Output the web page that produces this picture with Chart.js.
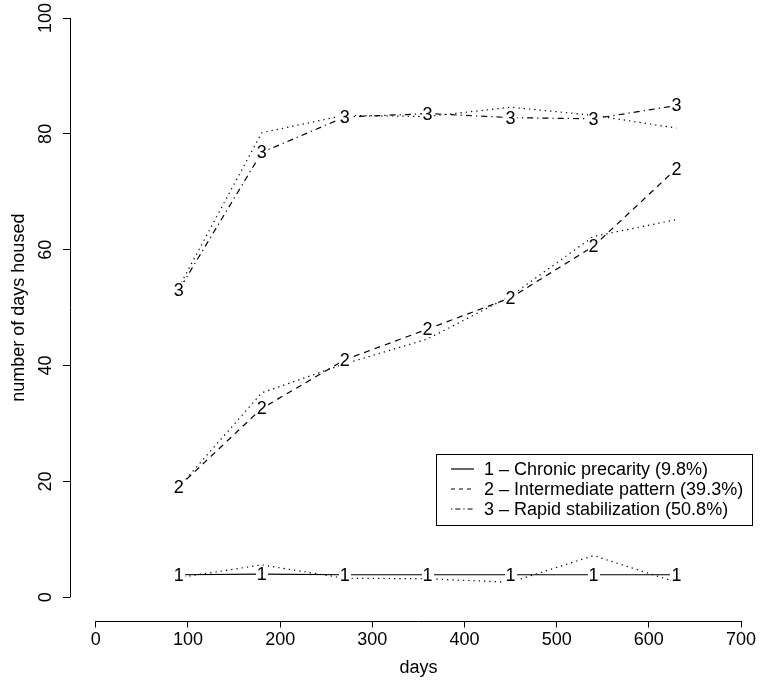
<!DOCTYPE html>
<html>
<head>
<meta charset="utf-8">
<script src="https://cdn.jsdelivr.net/npm/chart.js@4.4.1/dist/chart.umd.min.js"></script>
<style>
  html, body { margin: 0; padding: 0; background: #fff; }
  canvas { display: block; }
</style>
</head>
<body>
<canvas id="housingChart" width="760" height="688"></canvas>
<script>
// measurement points (days since entry)
const days = [90, 180, 270, 360, 450, 540, 630];
const xTicks = [0, 100, 200, 300, 400, 500, 600, 700];
const yTicks = [0, 20, 40, 60, 80, 100];

// fitted trajectories (numbered lines)
const fitted1 = [3.9, 4.0, 3.9, 3.9, 3.9, 3.9, 3.9];
const fitted2 = [19.1, 32.6, 41.0, 46.3, 51.7, 60.6, 74.0];
const fitted3 = [53.0, 76.8, 82.9, 83.5, 82.8, 82.6, 84.9];

// observed means (dotted lines)
const observed1 = [3.4, 5.6, 3.3, 3.2, 2.6, 7.2, 2.6];
const observed2 = [19.0, 35.3, 40.3, 44.6, 52.0, 62.3, 65.2];
const observed3 = [53.5, 80.2, 83.2, 83.0, 84.6, 83.2, 81.0];

const classNumbers = ["1", "2", "3"];
const classLabels = [
    "1 \u2013 Chronic precarity (9.8%)",
    "2 \u2013 Intermediate pattern (39.3%)",
    "3 \u2013 Rapid stabilization (50.8%)"
];
const xTitle = "days";
const yTitle = "number of days housed";

const FONT = '"Liberation Sans", Arial, Helvetica, sans-serif';
const FONT_SIZE = 18;
const DASH = {
    solid: [],
    dashed: [6, 5],
    dotted: [1.3, 4],
    dotdash: [1.3, 4, 6, 4]
};
const LEGEND_DASH = [[], [4, 4], [1.3, 3, 5, 3]];

// white box under each number so the line breaks there, like R's type = "b"
function gapMarker() {
    const c = document.createElement("canvas");
    c.width = 12;
    c.height = 16;
    const g = c.getContext("2d");
    g.fillStyle = "#fff";
    g.fillRect(0, 0, c.width, c.height);
    return c;
}

function lineSet(values, dash, marker, order) {
    return {
        data: days.map((d, i) => ({ x: d, y: values[i] })),
        borderColor: "#000",
        borderWidth: 1.2,
        borderDash: dash,
        fill: false,
        tension: 0,
        pointRadius: marker ? 6 : 0,
        pointHoverRadius: 0,
        pointStyle: marker || "circle",
        order: order
    };
}

// class numbers on the fitted points
const classNumbersPlugin = {
    id: "classNumbers",
    afterDatasetsDraw(chart) {
        const ctx = chart.ctx;
        ctx.save();
        ctx.fillStyle = "#000";
        ctx.font = FONT_SIZE + "px " + FONT;
        ctx.textAlign = "center";
        ctx.textBaseline = "middle";
        classNumbers.forEach((num, i) => {
            chart.getDatasetMeta(i).data.forEach(pt => {
                ctx.fillText(num, pt.x, pt.y + 1);
            });
        });
        ctx.restore();
    }
};

// axes lines, titles and boxed legend drawn R-style
const rDecor = {
    id: "rDecor",
    afterDraw(chart) {
        const { ctx, chartArea } = chart;
        const x = chart.scales.x;
        const y = chart.scales.y;
        ctx.save();
        ctx.strokeStyle = "#000";
        ctx.lineWidth = 1;
        ctx.setLineDash([]);

        const ax = Math.round(chartArea.left) + 0.5;
        ctx.beginPath();
        ctx.moveTo(ax, y.getPixelForValue(yTicks[0]));
        ctx.lineTo(ax, y.getPixelForValue(yTicks[yTicks.length - 1]));
        ctx.stroke();

        const ay = Math.round(chartArea.bottom) + 0.5;
        ctx.beginPath();
        ctx.moveTo(x.getPixelForValue(xTicks[0]), ay);
        ctx.lineTo(x.getPixelForValue(xTicks[xTicks.length - 1]), ay);
        ctx.stroke();

        ctx.fillStyle = "#000";
        ctx.font = FONT_SIZE + "px " + FONT;
        ctx.textAlign = "center";
        ctx.textBaseline = "middle";
        ctx.fillText(xTitle, x.getPixelForValue(350), 668);

        ctx.save();
        ctx.translate(19, y.getPixelForValue(50));
        ctx.rotate(-Math.PI / 2);
        ctx.fillText(yTitle, 0, 0);
        ctx.restore();

        // legend
        const box = { left: 436.5, top: 454.5, right: 752.5, bottom: 525.5 };
        ctx.strokeRect(box.left, box.top, box.right - box.left, box.bottom - box.top);
        ctx.textAlign = "left";
        classLabels.forEach((label, i) => {
            const rowY = 469 + i * 20;
            ctx.setLineDash(LEGEND_DASH[i]);
            ctx.lineWidth = 1.2;
            ctx.beginPath();
            ctx.moveTo(451, rowY);
            ctx.lineTo(474, rowY);
            ctx.stroke();
            ctx.setLineDash([]);
            ctx.fillText(label, 484, rowY + 1);
        });
        ctx.restore();
    }
};

const tickFont = { family: FONT, size: FONT_SIZE };

new Chart(document.getElementById("housingChart"), {
    type: "line",
    data: {
        datasets: [
            lineSet(fitted1, DASH.solid, gapMarker(), 0),
            lineSet(fitted2, DASH.dashed, gapMarker(), 0),
            lineSet(fitted3, DASH.dotdash, gapMarker(), 0),
            lineSet(observed1, DASH.dotted, null, 1),
            lineSet(observed2, DASH.dotted, null, 1),
            lineSet(observed3, DASH.dotted, null, 1)
        ]
    },
    options: {
        responsive: false,
        animation: false,
        events: [],
        layout: { padding: { top: 18, right: 19, left: 0, bottom: 0 } },
        plugins: {
            legend: { display: false },
            tooltip: { enabled: false }
        },
        scales: {
            x: {
                type: "linear",
                min: -28,
                max: 700,
                afterBuildTicks: (s) => { s.ticks = xTicks.map(v => ({ value: v })); },
                afterFit: (s) => { s.height = 67.5; },
                border: { display: false },
                grid: { drawOnChartArea: false, drawTicks: true, tickLength: 7, color: "#000", lineWidth: 1 },
                ticks: { color: "#000", font: tickFont, padding: 2, maxRotation: 0, autoSkip: false }
            },
            y: {
                type: "linear",
                min: -4,
                max: 100,
                afterBuildTicks: (s) => { s.ticks = yTicks.map(v => ({ value: v })); },
                afterFit: (s) => { s.width = 70; },
                border: { display: false },
                grid: { drawOnChartArea: false, drawTicks: true, tickLength: 7, color: "#000", lineWidth: 1 },
                ticks: {
                    color: "#000", font: tickFont, padding: 2,
                    minRotation: 90, maxRotation: 90, crossAlign: "center", autoSkip: false
                }
            }
        }
    },
    plugins: [classNumbersPlugin, rDecor]
});
</script>
</body>
</html>
